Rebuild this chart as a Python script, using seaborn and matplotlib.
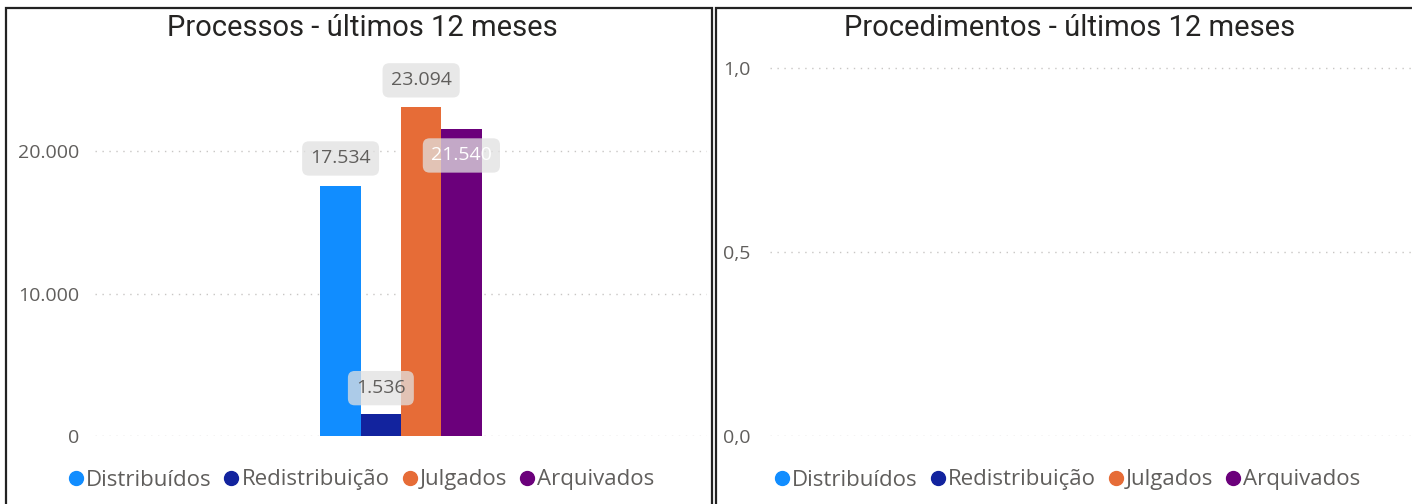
import matplotlib.pyplot as plt
import matplotlib.ticker as mticker
from matplotlib.lines import Line2D
from matplotlib.patches import Rectangle
import seaborn as sns
import pandas as pd

# ----------------------------
# DATA
# ----------------------------
series = ["Distribuídos", "Redistribuição", "Julgados", "Arquivados"]
processos = [17534, 1536, 23094, 21540]
procedimentos = [0, 0, 0, 0]
colors = ["#118DFF", "#12239E", "#E66C37", "#6B007B"]
label_offsets = [28, 26, 27, -26]   # label box centre above/below bar top (px)
label_colors = ["#605E5C", "#605E5C", "#605E5C", "#FFFFFF"]

palette = dict(zip(series, colors))
W, H = 1412, 504

sns.set_theme(style="white")
plt.rcParams["font.family"] = ["Open Sans", "DejaVu Sans"]

fig = plt.figure(figsize=(W / 100, H / 100), dpi=100)

# panel borders
for x0, x1 in [(6, 712), (716, 1416)]:
    fig.patches.append(Rectangle((x0 / W, -0.05), (x1 - x0) / W, (H - 8) / H + 0.05,
                                 transform=fig.transFigure, fill=False,
                                 ec="#222222", lw=1.6))


def thousands(v, pos=None):
    return f"{int(round(v)):,}".replace(",", ".")


def style_axis(ax):
    sns.despine(ax=ax, left=True, bottom=True)
    ax.grid(axis="y", color="#C8C6C4", linestyle=(0, (1, 4)), linewidth=1)
    ax.grid(axis="x", visible=False)
    ax.tick_params(axis="y", length=0, labelsize=14, labelcolor="#605E5C")
    ax.tick_params(axis="x", length=0, labelbottom=False)
    ax.set_xlabel("")
    ax.set_ylabel("")


# ----------------------------
# LEFT: PROCESSOS
# ----------------------------
df1 = pd.DataFrame({"grupo": [""] * 4, "serie": series, "valor": processos})
ax1 = fig.add_axes([95 / W, (H - 436) / H, (707 - 95) / W, 370 / H])
sns.barplot(data=df1, x="grupo", y="valor", hue="serie", hue_order=series,
            palette=palette, width=0.8, saturation=1, legend=False,
            linewidth=0, ax=ax1)
ax1.set_xlim(-1.52, 1.52)
ax1.set_ylim(0, 26000)
ax1.set_yticks([0, 10000, 20000])
ax1.yaxis.set_major_formatter(mticker.FuncFormatter(thousands))
ax1.tick_params(axis="y", pad=11)
style_axis(ax1)

for cont, val, off, tc in zip(ax1.containers, processos, label_offsets, label_colors):
    bar = cont.patches[0]
    ax1.annotate(thousands(val), (bar.get_x() + bar.get_width() / 2, bar.get_height()),
                 xytext=(0, off), textcoords="offset pixels", ha="center", va="center",
                 fontsize=14, color=tc, zorder=5,
                 bbox=dict(boxstyle="round,pad=0.42,rounding_size=0.35",
                           fc="#E1E1E1", ec="none", alpha=0.75))

# ----------------------------
# RIGHT: PROCEDIMENTOS (empty)
# ----------------------------
df2 = pd.DataFrame({"grupo": [""] * 4, "serie": series, "valor": procedimentos})
ax2 = fig.add_axes([770 / W, (H - 436) / H, (W - 770) / W, 368 * 1.02 / H])
sns.barplot(data=df2, x="grupo", y="valor", hue="serie", hue_order=series,
            palette=palette, width=0.8, saturation=1, legend=False,
            linewidth=0, ax=ax2)
ax2.set_ylim(0, 1.02)
ax2.set_yticks([0, 0.5, 1.0])
ax2.yaxis.set_major_formatter(mticker.FuncFormatter(lambda v, p: f"{v:.1f}".replace(".", ",")))
ax2.tick_params(axis="y", pad=14)
style_axis(ax2)

# ----------------------------
# TITLES & LEGENDS
# ----------------------------
title_kw = dict(ha="center", va="center", fontsize=21, color="#252423",
                fontweight="normal", family=["Roboto", "DejaVu Sans"])
fig.text(362 / W, (H - 28) / H, "Processos - últimos 12 meses", **title_kw)
fig.text(1070 / W, (H - 28) / H, "Procedimentos - últimos 12 meses", **title_kw)

handles = [Line2D([], [], marker="o", linestyle="", markersize=10, color=c) for c in colors]
for cx in [360, 1066]:
    fig.legend(handles, series, loc="center", bbox_to_anchor=(cx / W, 24 / H),
               ncol=4, frameon=False, handletextpad=0.0, columnspacing=0.45,
               handlelength=0.9, fontsize=16, labelcolor="#605E5C")

fig.savefig("out.png", dpi=100)
